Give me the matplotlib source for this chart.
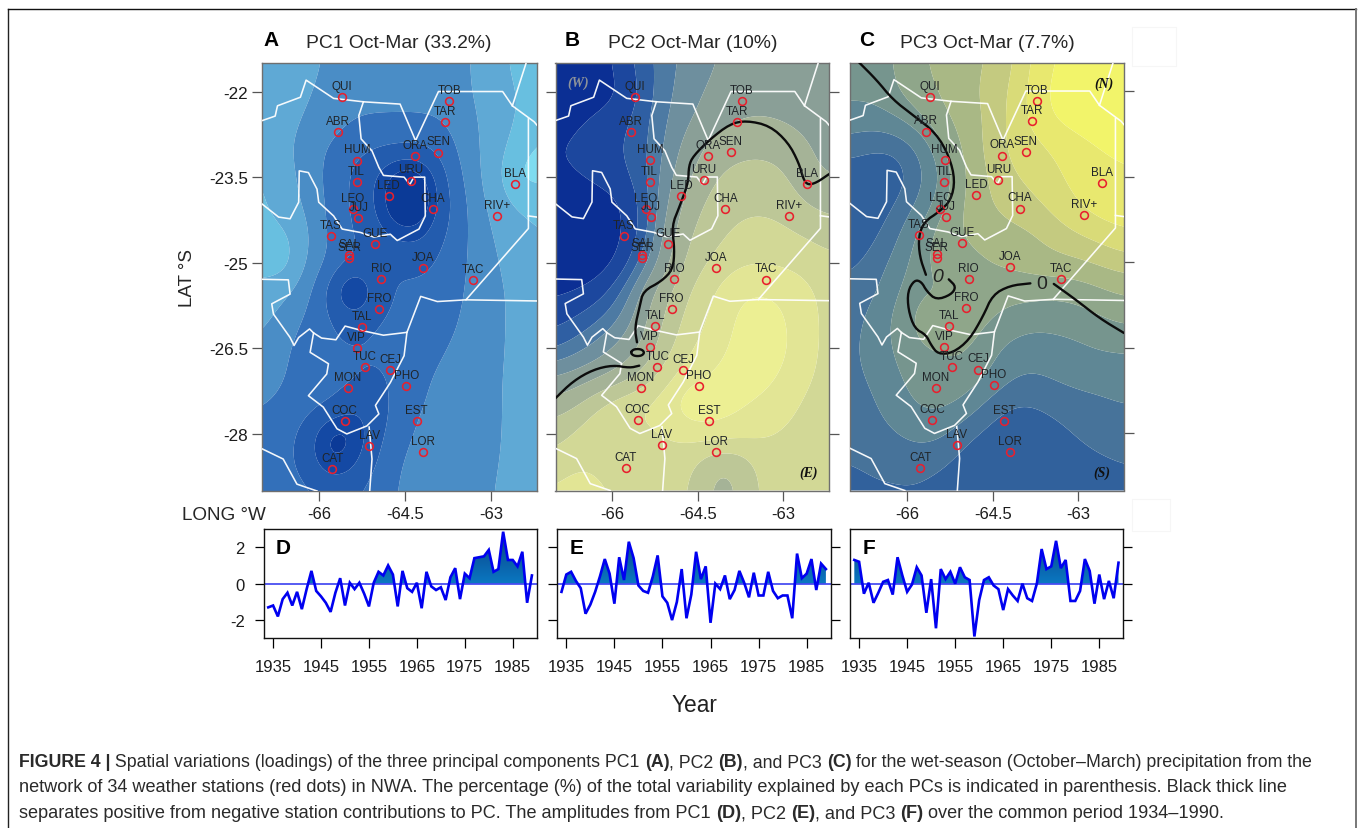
import numpy as np
import matplotlib
matplotlib.use("Agg")
import matplotlib.pyplot as plt
from matplotlib.colors import LinearSegmentedColormap
from matplotlib.path import Path
from matplotlib.patches import PathPatch, Rectangle
from matplotlib.lines import Line2D

plt.rcParams['font.family'] = ['Liberation Sans', 'DejaVu Sans']
plt.rcParams['axes.unicode_minus'] = False

W, H = 1360, 829
TXT = '#1c1c1c'

# ---------------------------------------------------------------- stations
station_names = ['QUI','TOB','TAR','ABR','ORA','SEN','HUM','TIL','URU','LED','BLA','LEO','JUJ','CHA','RIV+','TAS','GUE',
                 'SAL','SER','JOA','RIO','TAC','FRO','TAL','VIP','TUC','CEJ','MON','PHO','COC','EST','LAV','LOR','CAT']
station_lon = [-65.60,-63.73,-63.81,-65.67,-64.33,-63.92,-65.34,-65.35,-64.40,-64.79,-62.58,-65.42,-65.32,-64.02,-62.90,-65.80,-65.03,
               -65.48,-65.48,-64.19,-64.92,-63.31,-64.96,-65.26,-65.35,-65.21,-64.76,-65.50,-64.48,-65.56,-64.30,-65.13,-64.19,-65.77]
station_lat = [-22.10,-22.17,-22.53,-22.71,-23.13,-23.07,-23.21,-23.59,-23.56,-23.83,-23.62,-24.06,-24.21,-24.06,-24.18,-24.53,-24.67,
               -24.86,-24.92,-25.09,-25.29,-25.30,-25.81,-26.12,-26.49,-26.83,-26.88,-27.20,-27.16,-27.77,-27.78,-28.21,-28.32,-28.61]

# ---------------------------------------------------------------- borders (lon, lat)
border_north = [(-67.00,-22.51),(-66.77,-22.43),(-66.73,-22.25),(-66.33,-22.10),(-66.23,-21.80),(-65.75,-22.12),(-65.23,-22.18),
                (-64.59,-22.22),(-64.32,-22.86),(-63.92,-22.00),(-62.80,-22.00),(-62.63,-22.25),(-62.25,-22.53),(-62.20,-22.59)]
border_paraguay = [(-62.63,-22.25),(-62.39,-21.50)]
border_east = [(-62.35,-22.48),(-62.35,-24.40),(-63.44,-25.65)]
border_east2 = [(-62.35,-24.18),(-62.20,-24.20)]
border_middle = [(-62.20,-25.67),(-63.44,-25.65),(-63.94,-25.68),(-64.23,-25.59),(-64.47,-26.22),(-64.88,-26.27),(-65.25,-26.19),
                 (-65.55,-26.11),(-65.71,-26.35),(-65.96,-26.32),(-66.10,-26.23),(-66.17,-26.16),(-66.36,-26.31),(-66.44,-26.45),
                 (-66.51,-26.31),(-66.80,-25.90),(-66.83,-25.72),(-66.51,-25.55),(-66.54,-25.30),(-67.00,-25.29)]
border_jujuy = [(-65.23,-22.18),(-65.31,-22.42),(-65.27,-22.83),(-65.08,-23.04),(-64.96,-23.33),(-64.88,-23.47),(-64.52,-23.50),
                (-64.42,-23.63),(-64.35,-23.50),(-64.16,-23.50),(-64.15,-24.18),(-64.26,-24.41),(-64.64,-24.61),(-64.76,-24.50),
                (-65.05,-24.55),(-65.28,-24.47),(-65.60,-24.41),(-65.75,-24.18),(-66.01,-23.94),(-66.04,-23.71),(-66.19,-23.42),
                (-66.35,-23.39),(-66.36,-23.94),(-66.51,-24.23),(-66.71,-24.20),(-67.00,-23.97)]
border_tucuman = [(-64.47,-26.22),(-64.52,-26.63),(-64.76,-27.10),(-65.02,-27.50),(-64.96,-27.65),(-65.17,-27.86),(-65.52,-28.00),
                  (-65.69,-27.91),(-65.93,-27.53),(-66.19,-27.33),(-65.87,-26.95),(-65.84,-26.77),(-66.16,-26.57),(-66.10,-26.23)]
border_south = [(-65.13,-27.88),(-65.08,-28.44),(-65.12,-29.00)]
border_sw = [(-67.00,-28.26),(-66.63,-28.44),(-66.39,-28.88),(-66.04,-29.00)]
borders = [border_north, border_paraguay, border_east, border_east2, border_middle, border_jujuy, border_tucuman, border_south, border_sw]

# ---------------------------------------------------------------- zero-loading lines (lon, lat)
zero_b = [
 [(-62.20,-23.45),(-62.42,-23.60),(-62.57,-23.64),(-62.65,-23.54),(-62.73,-23.25),(-62.92,-22.89),(-63.24,-22.60),(-63.65,-22.51),
  (-63.94,-22.57),(-64.29,-22.84),(-64.58,-23.13),(-64.66,-23.30),(-64.67,-23.60),(-64.82,-24.01),(-64.96,-24.36),(-64.91,-24.77),
  (-64.94,-25.12),(-65.14,-25.33),(-65.46,-25.50),(-65.52,-25.76),(-65.61,-26.15),(-65.57,-26.40)],
 [(-65.68,-26.58),(-65.64,-26.53),(-65.56,-26.515),(-65.48,-26.53),(-65.44,-26.58),(-65.48,-26.63),(-65.56,-26.645),(-65.64,-26.63),(-65.68,-26.58)],
 [(-67.00,-27.38),(-66.69,-27.08),(-66.34,-26.88),(-65.99,-26.80),(-65.70,-26.85),(-65.53,-26.81)],
]
zero_c = [
 [(-66.84,-21.50),(-66.54,-21.80),(-66.25,-22.15),(-65.90,-22.42),(-65.49,-22.74),(-65.26,-23.15),(-65.16,-23.56),(-65.23,-23.91),
  (-65.43,-24.11),(-65.70,-24.29),(-65.80,-24.55),(-65.78,-24.90),(-65.67,-25.22)],
 [(-65.27,-25.30),(-65.14,-25.43),(-65.23,-25.57),(-65.49,-25.66),(-65.655,-25.51),(-65.75,-25.34),(-65.87,-25.31),(-65.99,-25.51),
  (-65.98,-25.83),(-65.87,-26.16),(-65.67,-26.27),(-65.58,-26.45),(-65.46,-26.61),(-65.20,-26.59),(-64.91,-26.36),(-64.67,-25.95),
  (-64.50,-25.57),(-64.20,-25.41),(-63.84,-25.37)],
 [(-63.43,-25.38),(-63.04,-25.66),(-62.63,-25.98),(-62.20,-26.24)],
]
zero_labels_c = [(-65.47,-25.25,'italic'),(-63.65,-25.37,'normal')]

# ---------------------------------------------------------------- gridded loadings, read as colour band per grid node
grid_lon = [-67.0,-66.6,-66.2,-65.8,-65.4,-65.0,-64.6,-64.2,-63.8,-63.4,-63.0,-62.6,-62.2]
grid_lat = [-21.5,-22.0,-22.5,-23.0,-23.5,-24.0,-24.5,-25.0,-25.5,-26.0,-26.5,-27.0,-27.5,-28.0,-28.5,-29.0]

field_a = [
 [1.2,1.3,1.7,2.2,2.5,2.5,2.5,2.5,2.4,2.1,1.5,0.8,0.4],
 [1.3,1.4,1.9,2.4,2.6,2.6,2.6,2.6,2.5,2.1,1.5,1.0,0.8],
 [1.3,1.6,2.2,2.5,3.0,3.1,3.1,3.1,3.0,2.3,1.6,1.0,0.6],
 [1.3,1.8,2.5,3.2,3.8,4.0,4.0,4.1,3.5,2.5,1.5,0.7,0.2],
 [0.9,1.6,2.4,3.4,4.2,5.0,6.8,6.4,4.0,2.7,1.4,0.1,0.1],
 [0.8,1.5,2.2,3.3,4.2,5.0,7.2,6.9,4.2,3.0,1.7,0.9,0.8],
 [0.7,0.7,1.8,3.3,4.0,4.6,5.4,5.2,4.0,3.0,2.0,1.4,1.0],
 [0.7,0.1,2.2,3.2,3.9,4.0,4.0,4.4,3.6,3.0,2.2,1.6,1.2],
 [1.2,1.8,2.7,4.6,7.5,4.4,3.9,3.7,3.5,2.9,2.3,1.8,1.5],
 [1.7,2.5,3.2,3.9,4.4,4.0,3.8,3.6,3.3,2.8,2.3,1.8,1.5],
 [2.2,2.9,3.5,3.9,4.0,3.8,3.6,3.4,3.0,2.7,2.3,1.8,1.4],
 [2.5,3.0,3.4,3.6,3.7,4.3,3.7,3.1,2.8,2.6,2.2,1.8,1.3],
 [3.0,3.2,3.6,3.8,4.9,4.7,3.5,3.0,2.7,2.5,2.2,1.8,1.3],
 [3.2,3.6,4.5,6.6,6.0,4.3,3.4,2.7,2.6,2.5,2.2,1.8,1.2],
 [3.3,3.7,4.6,6.0,5.4,3.9,3.0,2.5,2.4,2.4,2.2,1.7,1.2],
 [3.2,3.4,3.8,4.2,4.1,3.5,2.9,2.5,2.4,2.3,2.1,1.6,1.2],
]
field_b = [
 [0.3,0.4,0.6,1.5,2.3,3.0,3.6,4.0,4.2,4.3,4.4,4.4,4.4],
 [0.2,0.3,0.5,1.0,2.2,3.1,3.8,4.2,4.4,4.5,4.5,4.5,4.5],
 [0.6,0.9,1.3,1.6,2.4,3.3,4.0,4.5,5.0,5.1,4.9,4.7,4.6],
 [1.0,1.2,1.6,1.8,2.4,3.5,4.6,5.5,5.8,5.9,5.7,5.1,4.7],
 [0.8,1.0,1.3,1.6,2.4,3.8,5.1,6.0,6.3,6.3,6.2,5.2,4.9],
 [0.3,0.3,0.5,0.9,2.2,4.2,5.7,6.4,6.8,6.9,6.7,6.0,5.7],
 [0.2,0.2,0.4,0.9,2.2,4.8,6.1,6.7,7.2,7.3,7.2,6.9,6.5],
 [0.3,0.3,0.5,1.2,3.0,5.0,6.5,7.2,7.8,7.9,7.8,7.7,7.3],
 [0.8,1.0,1.4,2.6,4.7,6.0,7.1,8.1,8.9,9.1,8.8,8.2,7.7],
 [1.5,1.9,2.5,3.4,5.0,6.4,7.5,8.3,9.2,9.5,9.2,8.3,7.7],
 [2.3,2.9,3.6,4.4,5.3,6.8,8.0,8.6,9.3,9.6,9.3,8.3,7.7],
 [4.0,4.4,4.8,5.4,6.3,7.8,8.7,9.2,9.5,9.5,8.9,8.1,7.7],
 [5.4,6.0,7.2,8.0,8.3,8.9,10.2,9.5,9.2,8.8,8.3,7.8,7.6],
 [6.6,7.3,8.0,7.9,7.8,8.1,8.4,8.9,8.6,8.2,7.9,7.7,7.6],
 [7.3,7.8,7.5,6.4,7.5,7.6,7.2,5.8,6.0,7.4,7.6,7.5,7.5],
 [8.2,8.7,8.5,7.4,7.6,7.5,6.9,5.6,5.9,7.2,7.6,7.5,7.5],
]
field_c = [
 [3.0,2.7,3.0,3.6,3.9,4.2,4.5,5.0,6.3,7.3,7.6,7.9,8.1],
 [2.5,2.6,3.0,3.4,3.8,4.2,4.7,5.3,6.6,7.6,7.9,8.0,8.1],
 [2.2,2.1,2.4,2.9,3.5,4.0,4.6,5.4,6.5,7.4,7.6,7.7,7.8],
 [1.3,1.0,1.0,1.7,2.9,3.8,4.7,5.5,5.8,6.3,6.9,7.2,7.2],
 [0.5,0.4,0.4,1.4,2.4,3.6,4.5,5.2,5.5,6.0,6.6,7.1,7.2],
 [0.3,0.4,1.0,1.8,2.8,3.8,4.4,4.9,5.1,5.6,6.2,6.8,7.1],
 [0.2,0.8,1.5,2.6,3.4,3.8,4.0,4.2,4.4,4.9,5.3,5.6,6.0],
 [0.8,1.3,1.9,2.8,3.3,3.4,3.7,3.9,4.1,4.3,4.4,4.7,5.0],
 [1.3,1.5,2.3,3.0,2.8,3.2,3.3,3.2,3.2,3.1,3.2,3.5,3.8],
 [1.4,1.9,2.6,3.3,3.4,3.4,3.1,2.8,2.6,2.6,2.7,2.9,3.1],
 [1.5,2.0,2.5,3.0,3.0,3.1,2.7,2.2,2.1,2.2,2.3,2.5,2.5],
 [1.5,1.8,2.3,2.7,2.9,2.9,2.5,1.8,1.6,1.8,1.9,1.9,2.0],
 [1.3,1.6,2.1,2.5,2.6,2.3,1.5,1.0,1.0,1.3,1.5,1.6,1.7],
 [1.2,1.4,1.7,2.0,1.9,1.2,0.8,0.4,0.4,0.7,1.1,1.3,1.4],
 [1.0,1.1,1.2,1.3,1.1,0.7,0.4,0.3,0.3,0.4,0.7,0.9,1.0],
 [0.8,0.9,0.9,0.9,0.7,0.5,0.3,0.2,0.2,0.3,0.5,0.6,0.8],
]

colors_a = ['#7fdcf0','#68bfe0','#5fa9d5','#4a8dc6','#3370ba','#235cae','#1449a4','#0b3a97']
levels_a = [-1,0.35,1,2,3,4,5,5.7,9]
colors_b = ['#0b2f94','#1c479e','#2f5fa3','#4d7aa3','#6e8f9e','#8a9f97','#a5b397','#bdc797','#d2d896','#e2e595','#ecef93']
levels_b = [-1,1,1.8,2.5,3.2,4,5,6,7,8,9,11]
colors_c = ['#31619c','#47739a','#5f8795','#76958e','#8fa68a','#a9b885','#c4ca80','#d9db78','#e8e86f','#f2f46a']
levels_c = [-1,1,1.7,2.4,3,3.7,4.5,5.3,6.2,7.2,9]

# ---------------------------------------------------------------- amplitudes
years = list(range(1934, 1990))
pc1_amp = [-1.3,-1.2,-1.8,-0.85,-0.5,-1.2,-0.45,-1.4,-0.3,0.7,-0.4,-0.7,-1.05,-1.55,-0.5,0.3,-1.2,0.05,-0.3,0.05,-0.55,-1.25,0.05,0.65,
           0.45,1.0,0.5,-1.25,0.7,-0.25,-0.45,0.05,-1.35,0.65,-0.15,-0.35,-0.2,-0.9,0.35,0.85,-0.85,0.55,0.3,1.4,1.45,1.5,1.85,0.65,
           0.8,2.85,1.3,1.3,0.95,1.75,-1.05,0.45]
pc2_amp = [-0.45,0.5,0.65,0.15,-0.25,-1.65,-1.15,-0.45,0.4,1.35,0.55,-1.1,1.45,0.2,2.3,1.4,-0.1,-0.4,-0.5,0.4,1.55,-0.7,-1.05,-2.0,
           -1.0,0.8,-1.9,-0.6,1.75,0.25,0.95,-2.15,0.0,-0.3,0.45,-0.85,-0.35,0.7,0.05,-0.75,0.6,-0.65,-0.65,0.65,-0.4,-0.8,-0.65,-0.65,
           -1.9,1.65,0.3,0.55,1.35,-0.35,1.1,0.8]
pc3_amp = [1.3,1.2,-0.55,0.05,-1.05,-0.5,0.1,0.2,-0.6,1.45,0.45,-0.45,-0.05,0.9,0.45,-1.6,0.25,-2.45,0.8,0.25,0.65,0.0,0.9,0.35,0.2,
           -2.9,-0.9,0.2,0.35,-0.1,-0.3,-1.45,-0.3,-0.65,-0.95,0.0,-0.8,-0.95,0.0,1.9,0.8,0.95,2.35,0.85,1.3,-0.95,-0.95,-0.4,1.35,0.7,
           -1.1,0.5,-0.85,0.15,-0.8,1.15]

lat_ticks = [-22,-23.5,-25,-26.5,-28]
lat_tick_labels = ['-22','-23.5','-25','-26.5','-28']
lon_ticks = [-66,-64.5,-63]
lon_tick_labels = ['-66','-64.5','-63']
year_ticks = [1935,1945,1955,1965,1975,1985]
amp_ticks = [-2,0,2]

map_titles = ['PC1 Oct-Mar (33.2%)','PC2 Oct-Mar (10%)','PC3 Oct-Mar (7.7%)']
map_letters = ['A','B','C']
amp_letters = ['D','E','F']

caption_lines = [
 [('FIGURE 4 |',True),(' Spatial variations (loadings) of the three principal components PC1 ',False),('(A)',True),(', PC2 ',False),('(B)',True),
  (', and PC3 ',False),('(C)',True),(' for the wet-season (October\u2013March) precipitation from the',False)],
 [('network of 34 weather stations (red dots) in NWA. The percentage (%) of the total variability explained by each PCs is indicated in parenthesis. Black thick line',False)],
 [('separates positive from negative station contributions to PC. The amplitudes from PC1 ',False),('(D)',True),(', PC2 ',False),('(E)',True),
  (', and PC3 ',False),('(F)',True),(' over the common period 1934\u20131990.',False)],
]

# ---------------------------------------------------------------- layout
fig = plt.figure(figsize=(W/100, H/100), dpi=100, facecolor='white')
def px_axes(x0, y0, x1, y1):
    return fig.add_axes([x0/W, 1-y1/H, (x1-x0)/W, (y1-y0)/H])
def ftext(x, y, s, **kw):
    return fig.text(x/W, 1-y/H, s, **kw)
def smooth(pts, n=2):
    p = np.asarray(pts, float)
    closed = np.allclose(p[0], p[-1])
    for _ in range(n):
        q = 0.75*p[:-1]+0.25*p[1:]
        r = 0.25*p[:-1]+0.75*p[1:]
        m = np.empty((2*len(q),2)); m[0::2]=q; m[1::2]=r
        p = np.vstack([m, m[:1]]) if closed else np.vstack([p[:1], m, p[-1:]])
    return p

# render the colour-band grid as rounded contours: fine resampling, then a small gaussian
UP = 8
fine_lon = np.linspace(grid_lon[0], grid_lon[-1], (len(grid_lon)-1)*UP+1)
fine_lat = np.linspace(grid_lat[0], grid_lat[-1], (len(grid_lat)-1)*UP+1)
def soften(field, sigma=4.0):
    z = np.asarray(field, float)
    z = np.array([np.interp(fine_lon, grid_lon, r) for r in z])
    z = np.array([np.interp(-fine_lat, -np.array(grid_lat), c) for c in z.T]).T
    r = int(3*sigma)
    k = np.exp(-0.5*(np.arange(-r, r+1)/sigma)**2); k /= k.sum()
    for axis in (0, 1):
        z = np.apply_along_axis(lambda a: np.convolve(np.pad(a, r, mode='edge'), k, mode='valid'), axis, z)
    return z

# outer frame
fig.add_artist(Line2D([8/W,8/W],[1-10/H,0],color='#222222',lw=1.0))
fig.add_artist(Line2D([8/W,1356/W],[1-10/H,1-10/H],color='#111111',lw=1.0))
fig.add_artist(Line2D([1356/W,1356/W],[1-10/H,0],color='#777777',lw=1.4))
# faint watermarks
fig.add_artist(Rectangle((1132/W,1-67/H),44/W,39/H,fc='none',ec='#f6f6f6',lw=0.8,transform=fig.transFigure))
fig.add_artist(Rectangle((1132/W,1-532/H),38/W,32/H,fc='none',ec='#f6f6f6',lw=0.8,transform=fig.transFigure))

map_boxes = [(262,64,537,492),(555.5,64,829,491.5),(850,63.5,1124,491.5)]
fields = [field_a, field_b, field_c]
cols = [colors_a, colors_b, colors_c]
levs = [levels_a, levels_b, levels_c]
tick_sides = [(True,False),(True,True),(False,True)]

for i, box in enumerate(map_boxes):
    ax = px_axes(*box)
    ax.contourf(fine_lon, fine_lat, soften(fields[i]), levels=levs[i], colors=cols[i], antialiased=True)
    ax.set_xlim(-67, -62.2); ax.set_ylim(-29, -21.5)
    for b in borders:
        b = np.asarray(b)
        ax.plot(b[:,0], b[:,1], color='white', lw=1.15, solid_joinstyle='round', alpha=0.95, zorder=3)
    if i == 1:
        for l in zero_b:
            p = smooth(l); ax.plot(p[:,0], p[:,1], color='#0c0c0c', lw=1.7, zorder=4, solid_capstyle='round')
        ax.text(-66.61,-21.84,'(W)',color='#8f949a',family='Liberation Serif',weight='bold',style='italic',fontsize=10,ha='center',va='center',zorder=6)
        ax.text(-62.56,-28.68,'(E)',color='#111111',family='Liberation Serif',weight='bold',style='italic',fontsize=10,ha='center',va='center',zorder=6)
    if i == 2:
        for l in zero_c:
            p = smooth(l); ax.plot(p[:,0], p[:,1], color='#0c0c0c', lw=1.7, zorder=4, solid_capstyle='round')
        for lo, la, st in zero_labels_c:
            ax.text(lo, la, '0', color='#222222', fontsize=14, style=st, ha='center', va='center', zorder=6)
        ax.text(-62.56,-21.87,'(N)',color='#111111',family='Liberation Serif',weight='bold',style='italic',fontsize=10,ha='center',va='center',zorder=6)
        ax.text(-62.59,-28.68,'(S)',color='#111111',family='Liberation Serif',weight='bold',style='italic',fontsize=10,ha='center',va='center',zorder=6)
    ax.plot(station_lon, station_lat, ls='none', marker='o', ms=5.6, mfc='none', mec='#e8202e', mew=1.15, zorder=5)
    for n, lo, la in zip(station_names, station_lon, station_lat):
        ax.annotate(n, (lo, la), xytext=(0, 8.0), textcoords='offset points', ha='center', va='center',
                    fontsize=8.4, color='#202428', zorder=6)
    for s in ax.spines.values():
        s.set_color('#6f6f6f'); s.set_linewidth(1.0)
    left, right = tick_sides[i]
    ax.set_xticks(lon_ticks); ax.set_yticks(lat_ticks)
    ax.tick_params(axis='both', length=7, width=0.9, color='#555555', left=left, right=right, labelleft=False, labelright=False, bottom=True)
    ax.set_xticklabels(lon_tick_labels, fontsize=12, color=TXT)
    ax.tick_params(axis='x', pad=4)
    if i == 0:
        ax.set_yticklabels(lat_tick_labels, fontsize=12.3, color=TXT)
        ax.tick_params(axis='y', labelleft=True, pad=3)
    ftext({0:399,1:693,2:987}[i], 43, map_titles[i], fontsize=13.9, color='#262626', ha='center', va='center')
    ftext({0:271,1:572,2:867}[i], 41, map_letters[i], fontsize=15, weight='bold', color='black', ha='center', va='center')

ftext(188, 278, 'LAT \u00b0S', fontsize=13.6, rotation=90, color='#262626', ha='center', va='center')
ftext(224, 515, 'LONG \u00b0W', fontsize=13.6, color='#262626', ha='center', va='center')

# amplitudes
amp_boxes = [(263.5,530,536.7,639.3),(556.7,530,830.7,639.3),(849.5,530,1123.3,639.3)]
amps = [pc1_amp, pc2_amp, pc3_amp]
grad = LinearSegmentedColormap.from_list('g', ['#0a78c2','#0b5aa0','#0c3478'])
yrs = np.array(years, float)
letter_x = [283, 577, 869]
for i, box in enumerate(amp_boxes):
    ax = px_axes(*box)
    v = np.array(amps[i])
    pc = ax.fill_between(yrs, 0, v, where=v >= 0, interpolate=True, color='none')
    path = Path.make_compound_path(*pc.get_paths())
    im = ax.imshow(np.linspace(1, 0, 128)[:, None], extent=(1933, 1990, 0, 3), aspect='auto', cmap=grad, zorder=1)
    im.set_clip_path(PathPatch(path, transform=ax.transData))
    ax.axhline(0, color='#3a3ff0', lw=1.2, zorder=2)
    ax.plot(yrs, v, color='#0000f0', lw=1.9, zorder=3, solid_joinstyle='miter')
    ax.set_xlim(1933, 1990); ax.set_ylim(-3, 3)
    ax.set_xticks(year_ticks); ax.set_yticks(amp_ticks)
    left, right = tick_sides[i]
    ax.tick_params(axis='x', length=7, width=0.9, labelsize=12, pad=8, labelcolor=TXT)
    ax.tick_params(axis='y', length=6.5, width=0.9, left=left, right=right, labelleft=(i == 0), labelsize=12, pad=7, labelcolor=TXT)
    for s in ax.spines.values():
        s.set_color('#111111'); s.set_linewidth(1.0)
    ftext(letter_x[i], 549, amp_letters[i], fontsize=15, weight='bold', color='black', ha='center', va='center')

ftext(694, 706, 'Year', fontsize=16.4, color='#222222', ha='center', va='center')

# caption
rend = fig.canvas.get_renderer()
def run_width(s, bold, fs):
    t = fig.text(0, 0, s + '|', fontsize=fs, weight='bold' if bold else 'normal')
    b = fig.text(0, 0, '|', fontsize=fs, weight='bold' if bold else 'normal')
    w = t.get_window_extent(rend).width - b.get_window_extent(rend).width
    t.remove(); b.remove()
    return w
cap_fs = [12.75, 13.05, 13.05]
cap_y = [763, 788, 814]
cap_x0 = 19
for runs, y, fs in zip(caption_lines, cap_y, cap_fs):
    x = cap_x0
    for s, bold in runs:
        ftext(x, y, s, fontsize=fs, weight='bold' if bold else 'normal', color='#2a2a2a', ha='left', va='center')
        x += run_width(s, bold, fs)

fig.savefig('out.png', dpi=100, facecolor='white')
